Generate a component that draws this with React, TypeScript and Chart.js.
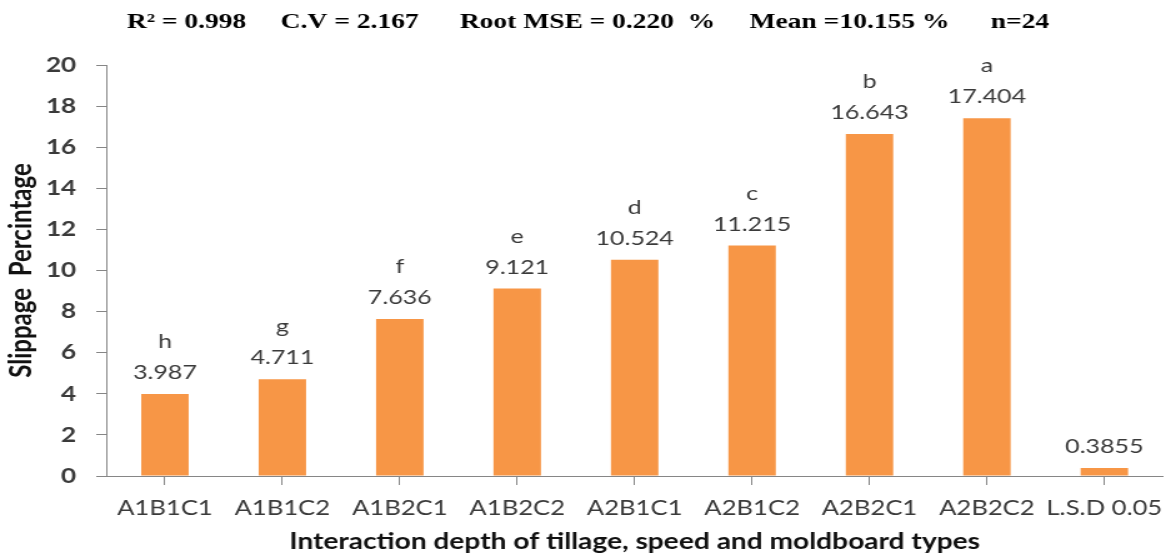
import React, { useEffect, useRef } from "react";
import { Chart, registerables } from "chart.js";

Chart.register(...registerables);

const categories = ["A1B1C1", "A1B1C2", "A1B2C1", "A1B2C2", "A2B1C1", "A2B1C2", "A2B2C1", "A2B2C2", "L.S.D 0.05"];
const slippage = [3.987, 4.711, 7.636, 9.121, 10.524, 11.215, 16.643, 17.404, 0.3855];
const groupLetters = ["h", "g", "f", "e", "d", "c", "b", "a", ""];
const yTicks = [0, 2, 4, 6, 8, 10, 12, 14, 16, 18, 20];
const headerText = "R\u00B2 = 0.998     C.V = 2.167      Root MSE = 0.220  %     Mean =10.155 %      n=24";

const LOGICAL_W = 941;
const H = 558;
const STRETCH = 1176 / LOGICAL_W;

const labelPlugin = {
  id: "barLabels",
  afterDatasetsDraw(chart: any) {
    const ctx = chart.ctx;
    const meta = chart.getDatasetMeta(0);
    ctx.save();
    ctx.font = "20px Lato";
    ctx.fillStyle = "#3a3a3a";
    ctx.textAlign = "center";
    ctx.textBaseline = "alphabetic";
    meta.data.forEach((bar: any, i: number) => {
      const { x, y } = bar.getProps(["x", "y"], true);
      ctx.fillText(String(slippage[i]), x, y - 15);
      if (groupLetters[i]) ctx.fillText(groupLetters[i], x, y - 46);
    });
    ctx.restore();
  },
};

export default function App() {
  const ref = useRef<HTMLCanvasElement | null>(null);
  useEffect(() => {
    document.body.style.margin = "0";
    const canvas = ref.current!;
    const chart = new Chart(canvas, {
      type: "bar",
      data: {
        labels: categories,
        datasets: [
          {
            data: slippage,
            backgroundColor: "#F79646",
            borderWidth: 0,
            barPercentage: 0.404,
            categoryPercentage: 1,
          },
        ],
      },
      options: {
        responsive: false,
        animation: false,
        layout: { padding: 0 },
        plugins: {
          legend: { display: false },
          tooltip: { enabled: false },
          title: {
            display: true,
            text: headerText,
            color: "#000000",
            font: { family: "'Liberation Serif'", size: 22, weight: "bold" },
            padding: { top: 9, bottom: 65 - 9 - 26.4 },
          },
        },
        scales: {
          x: {
            grid: {
              display: true,
              drawOnChartArea: false,
              drawTicks: true,
              tickLength: 9,
              offset: false,
              color: "#868686",
            },
            border: { display: true, color: "#868686", width: 1 },
            ticks: {
              color: "#3a3a3a",
              font: { family: "Lato", size: 20.5 },
              padding: 11,
              maxRotation: 0,
              autoSkip: false,
            },
            title: {
              display: true,
              text: "Interaction depth of tillage, speed and moldboard types",
              color: "#111111",
              font: { family: "Lato", size: 22.5, weight: "bold" },
              padding: { top: 0, bottom: 3 },
            },
            afterFit: (scale: any) => {
              scale.height = 82;
            },
          },
          y: {
            min: 0,
            max: 20,
            afterBuildTicks: (scale: any) => {
              scale.ticks = yTicks.map((v) => ({ value: v }));
            },
            grid: {
              display: true,
              drawOnChartArea: false,
              drawTicks: true,
              tickLength: 8,
              color: "#868686",
            },
            border: { display: true, color: "#868686", width: 1 },
            ticks: {
              color: "#3a3a3a",
              font: { family: "Lato", size: 21, weight: "bold" },
              padding: 16,
            },
            title: {
              display: true,
              text: "Slippage  Percintage",
              color: "#111111",
              font: { family: "Lato", size: 24, weight: "bold" },
              padding: { top: 3, bottom: 0 },
            },
            afterFit: (scale: any) => {
              scale.width = 85;
            },
          },
        },
      },
      plugins: [labelPlugin],
    });
    return () => chart.destroy();
  }, []);

  return (
    <div style={{ width: 1176, height: H, overflow: "hidden", background: "#ffffff" }}>
      <div
        style={{
          width: LOGICAL_W,
          height: H,
          transform: `scaleX(${STRETCH})`,
          transformOrigin: "0 0",
        }}
      >
        <canvas ref={ref} width={LOGICAL_W} height={H} />
      </div>
    </div>
  );
}
